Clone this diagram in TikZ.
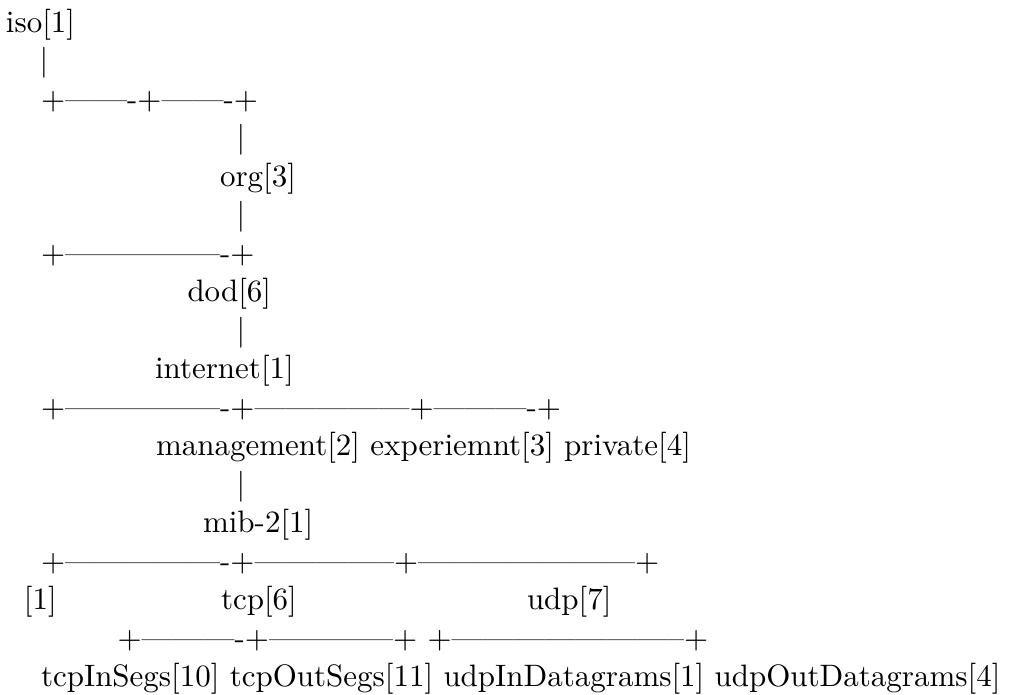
\documentclass[tikz,border=0pt]{standalone}
\newcommand\dM{\textemdash}
\newcommand\dN{\textendash}
\begin{document}
\begin{tikzpicture}[x=0.32258pt,y=-0.32258pt,
  t/.style={anchor=base west,inner sep=0pt,outer sep=0pt,font=\fontsize{10pt}{12pt}\selectfont}]
\useasboundingbox (0,0) rectangle (1009,694);
\node[t] (iso) at (6,32) {iso[1]};
\node[t] (bar1) at (39.7,70.5) {|};
\node[t] (h1) at (41,109) {+\dM\dM-+\dM\dM-+};
\node[t] (bar2) at (236.7,147.5) {|};
\node[t] (org) at (220,186) {org[3]};
\node[t] (bar3) at (236.7,224.5) {|};
\node[t] (h2) at (41,263) {+\dM\dM\dM\dM\dM-+};
\node[t] (dod) at (187.5,301.5) {dod[6]};
\node[t] (bar4) at (236.7,340) {|};
\node[t] (internet) at (155,378.5) {internet[1]};
\node[t] (h3) at (41,417) {+\dM\dM\dM\dM\dM-+\dM\dM\dM\dM\dM+\dM\dM\dM-+};
\node[t] (mgmt) at (156,455.5) {management[2] experiemnt[3] private[4]};
\node[t] (bar5) at (236.7,494) {|};
\node[t] (mib) at (203,532.5) {mib-2[1]};
\node[t] (h4) at (41,571) {+\dM\dM\dM\dM\dM-+\dM\dM\dM\dM\dN+\dM\dM\dM\dM\dM\dM\dM+};
\node[t] (one) at (24,609.5) {[1]};
\node[t] (tcp) at (221,609.5) {tcp[6]};
\node[t] (udp) at (527,609.5) {udp[7]};
\node[t] (h5) at (117.5,648) {+\dM\dM\dM-+\dM\dM\dM\dM+ +\dM\dM\dM\dM\dM\dM\dM\dN+};
\node[t] (leaves) at (41,686.5) {tcpInSegs[10] tcpOutSegs[11] udpInDatagrams[1] udpOutDatagrams[4]};
\end{tikzpicture}
\end{document}
